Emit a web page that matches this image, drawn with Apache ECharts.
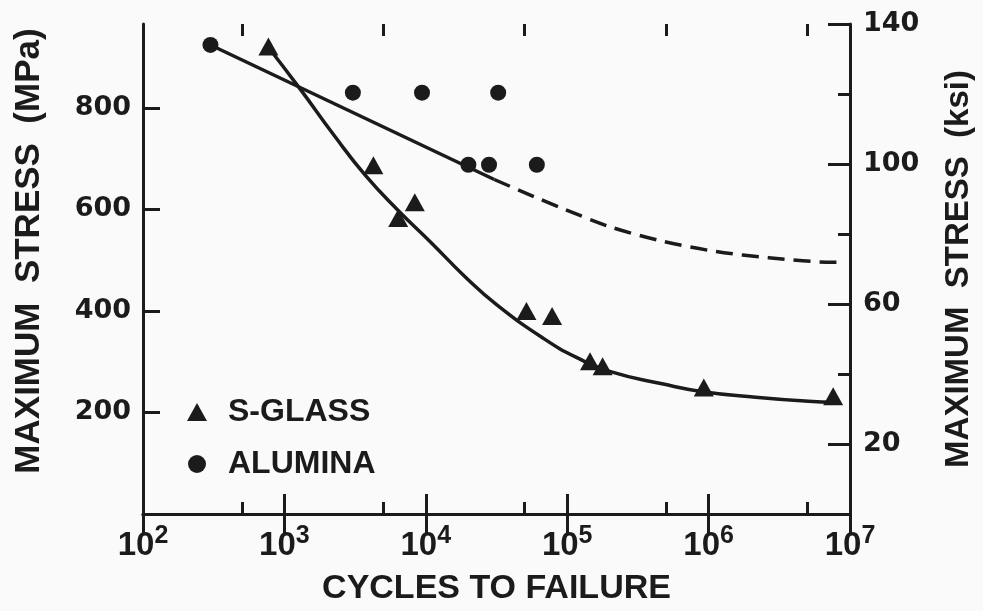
<!DOCTYPE html>
<html>
<head>
<meta charset="utf-8">
<script src="https://cdn.jsdelivr.net/npm/echarts@6/dist/echarts.min.js"></script>
<style>
  html, body { margin: 0; padding: 0; background: #fafafa; }
  #chart { width: 983px; height: 611px; }
</style>
</head>
<body>
<div id="chart"></div>
<script>
// Fatigue data: cycles to failure vs. maximum stress (MPa)
const sGlassPoints = [
  [771, 921], [4260, 687], [8360, 614], [6380, 583], [51500, 400],
  [78200, 390], [145000, 301], [178000, 291], [925000, 249], [7600000, 232]
];
const aluminaPoints = [
  [300, 924], [3050, 830], [9400, 830], [32500, 830],
  [20000, 688], [28000, 688], [61000, 688]
];
// Fitted curves
const sGlassFit = [
  [767, 920], [1302, 836], [2230, 747], [3741, 667], [6379, 598],
  [10880, 535], [18860, 468], [32140, 411], [68730, 345], [117200, 308],
  [199700, 281], [478300, 256], [913000, 241], [2150000, 230],
  [5070000, 222], [7850000, 220]
];
const aluminaFit = [[300, 924], [30500, 659]];
const aluminaExtrapolated = [
  [30500, 659], [58500, 625], [89000, 604], [200000, 566], [479000, 537],
  [1130000, 517], [2660000, 505], [7480000, 496], [8500000, 496]
];

// Axis ticks
const cycleTicks = [1e2, 1e3, 1e4, 1e5, 1e6, 1e7];
const cycleMinorTicks = [5e2, 5e3, 5e4, 5e5, 5e6];
const mpaTicks = [200, 400, 600, 800];
const ksiTicks = [20, 60, 100, 140];
const ksiMinorTicks = [40, 80, 120];
const KSI_MAX = 140;
const MPA_PER_KSI = 6.895;

const INK = '#1b1b1b';
const sans = 'Liberation Sans, Arial, sans-serif';
const wide = 'DejaVu Sans, sans-serif';

function xAxisDef(position, tickValues, tickLen, showLine, showLabels) {
  return {
    type: 'log', logBase: 10, min: 1e2, max: 1e7, position: position,
    axisLine: { show: showLine, lineStyle: { color: INK, width: 3 } },
    axisTick: { show: true, inside: true, length: tickLen, customValues: tickValues,
                lineStyle: { color: INK, width: 3 } },
    axisLabel: showLabels ? {
      show: true, customValues: tickValues, margin: 10,
      formatter: v => '{b|10}{s|' + Math.round(Math.log10(v)) + '}',
      rich: {
        b: { fontSize: 33, fontWeight: 'bold', fontFamily: sans, color: INK,
             verticalAlign: 'bottom', lineHeight: 38 },
        s: { fontSize: 25, fontWeight: 'bold', fontFamily: sans, color: INK,
             verticalAlign: 'top', lineHeight: 38 }
      }
    } : { show: false },
    splitLine: { show: false }
  };
}

function yAxisDef(position, max, tickValues, tickLen, showLine, labelValues) {
  return {
    type: 'value', min: 0, max: max, position: position,
    axisLine: { show: showLine, lineStyle: { color: INK, width: 3 } },
    axisTick: { show: true, inside: true, length: tickLen, customValues: tickValues,
                lineStyle: { color: INK, width: 3 } },
    axisLabel: labelValues ? {
      show: true, customValues: labelValues, margin: 12,
      fontSize: 27, fontWeight: 'bold', fontFamily: wide, color: INK
    } : { show: false },
    splitLine: { show: false }
  };
}

const xBottom = xAxisDef('bottom', cycleTicks, 20, true, true);
xBottom.name = 'CYCLES TO FAILURE';
xBottom.nameLocation = 'middle';
xBottom.nameGap = 58;
xBottom.nameTextStyle = { fontSize: 34, fontWeight: 'bold', fontFamily: sans, color: INK };

const yLeft = yAxisDef('left', KSI_MAX * MPA_PER_KSI, mpaTicks, 17, true, mpaTicks);
yLeft.name = 'MAXIMUM  STRESS  (MPa)';
yLeft.nameLocation = 'middle';
yLeft.nameRotate = 90;
yLeft.nameGap = 96;
yLeft.nameTextStyle = { fontSize: 35, fontWeight: 'bold', fontFamily: sans, color: INK,
                        padding: [0, 0, 0, 36] };

const yRight = yAxisDef('right', KSI_MAX, ksiTicks, 22, true, ksiTicks);
yRight.axisLabel.margin = 13;
yRight.name = 'MAXIMUM  STRESS  (ksi)';
yRight.nameLocation = 'middle';
yRight.nameRotate = 90;
yRight.nameGap = 92;
yRight.nameTextStyle = { fontSize: 33, fontWeight: 'bold', fontFamily: sans, color: INK };

const option = {
  backgroundColor: '#fafafa',
  animation: false,
  grid: { left: 143, right: 128, top: 24, bottom: 95, containLabel: false },
  xAxis: [
    xBottom,
    xAxisDef('bottom', cycleMinorTicks, 12, false, false),
    xAxisDef('top', cycleTicks, 20, true, false),
    xAxisDef('top', cycleMinorTicks, 12, false, false)
  ],
  yAxis: [
    yLeft,
    yRight,
    yAxisDef('right', KSI_MAX, ksiMinorTicks, 12, false, null)
  ],
  legend: {
    orient: 'vertical', left: 182, top: 391, itemWidth: 20, itemHeight: 18, itemGap: 20,
    textStyle: { fontSize: 32, fontWeight: 'bold', fontFamily: sans, color: INK,
                 lineHeight: 32, padding: [0, 0, 0, 16] },
    data: [
      { name: 'S-GLASS', icon: 'triangle' },
      { name: 'ALUMINA', icon: 'circle' }
    ]
  },
  series: [
    {
      name: 'S-GLASS fit', type: 'line', data: sGlassFit, smooth: 0.5,
      showSymbol: false, lineStyle: { color: INK, width: 3.5 }, z: 2
    },
    {
      name: 'ALUMINA fit', type: 'line', data: aluminaFit,
      showSymbol: false, lineStyle: { color: INK, width: 3.5 }, z: 2
    },
    {
      name: 'ALUMINA extrapolated', type: 'line', data: aluminaExtrapolated, smooth: 0.3,
      showSymbol: false, lineStyle: { color: INK, width: 3.5, type: [17, 9] }, z: 2
    },
    {
      name: 'S-GLASS', type: 'scatter', data: sGlassPoints,
      symbol: 'triangle', symbolSize: [20, 18], itemStyle: { color: INK, opacity: 1 }, z: 3
    },
    {
      name: 'ALUMINA', type: 'scatter', data: aluminaPoints,
      symbol: 'circle', symbolSize: 16, itemStyle: { color: INK, opacity: 1 }, z: 3
    }
  ]
};

const chart = echarts.init(document.getElementById('chart'), null, { renderer: 'canvas' });
chart.setOption(option);
</script>
</body>
</html>
